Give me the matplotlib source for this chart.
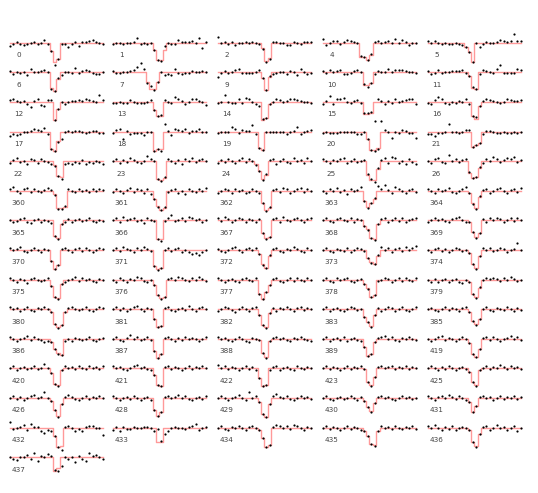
import matplotlib
matplotlib.use('Agg')
import matplotlib.pyplot as plt
import numpy as np

W, H = 538, 493

labels = [0, 1, 2, 4, 5, 6, 7, 9, 10, 11, 12, 13, 14, 15, 16, 17, 18, 19, 20, 21,
          22, 23, 24, 25, 26, 360, 361, 362, 363, 364, 365, 366, 367, 368, 369,
          370, 371, 372, 373, 374, 375, 376, 377, 378, 379, 380, 381, 382, 383, 385,
          386, 387, 388, 389, 419, 420, 421, 422, 423, 425, 426, 428, 429, 430, 431,
          432, 433, 434, 435, 436, 437]

# flux values (pixel-like units, baseline 0), 28 per light curve
flux_r0 = [
    [-3,-1,1,-1,-2,-1,0,1,-1,0,3,-1,-8,-22,-16,-1,-1,-4,-1,1,-3,1,1,2,3,1,0,-1],
    [-1,0,0,-1,0,0,1,5,-1,0,-1,0,-7,-17,-18,-3,0,-1,-1,3,1,1,1,2,0,5,-5,1],
    [6,0,1,-1,1,-2,0,0,1,0,1,0,-1,-6,-19,-16,1,1,0,0,-2,-2,1,0,-1,1,1,1],
    [4,-2,0,2,2,-1,1,3,2,1,0,-13,-14,-17,-11,1,2,0,1,2,0,4,0,3,1,-2,0,0],
    [2,0,2,0,-1,0,-1,-1,0,-1,-2,-4,-9,-19,0,-4,-1,1,0,0,1,3,2,1,2,9,2,2],
]
flux_r1 = [
    [1,-2,0,-1,0,-3,3,0,0,1,2,0,-17,-19,-6,-3,0,0,-1,4,-1,1,2,1,-1,-2,-2,0],
    [1,-1,-1,0,0,1,2,5,9,3,-11,-14,-18,-10,0,-3,-2,-3,3,-1,-2,-1,-1,1,0,0,1,0],
    [-5,-1,1,-1,0,2,3,-1,-1,-1,-1,0,2,-6,-18,-4,-2,-1,0,0,-2,1,0,-3,3,0,-2,-1],
    [1,-1,2,0,1,2,-2,-2,-1,1,2,0,-12,-15,-11,-2,1,0,0,3,0,2,2,2,1,0,0,-1],
    [1,-2,-1,2,-1,0,0,1,1,1,2,-1,-4,-15,-17,-2,2,1,0,-1,3,7,-1,-1,-1,-1,3,2],
]
flux_r2 = [
    [2,3,1,0,1,-2,-5,1,3,-3,-4,2,2,-18,-7,0,-2,0,1,1,2,1,3,2,1,0,7,2],
    [-1,-1,0,-1,-1,2,0,-1,-1,-1,0,2,-8,-14,-13,2,0,-1,5,3,1,-2,0,3,3,1,0,-3],
    [-1,0,7,0,-1,-1,3,-1,4,3,0,-2,-4,-17,-16,-2,0,3,2,0,1,3,3,2,1,0,0,-1],
    [-2,1,6,-2,3,3,4,0,-1,1,2,-1,-11,-11,-10,-19,3,1,-2,1,-1,3,0,1,2,3,3,-2],
    [-1,-2,2,5,3,-1,-2,0,-1,1,0,3,-2,-14,-15,-4,1,3,2,1,0,-1,0,3,2,1,1,2],
]
flux_r3 = [
    [-4,-2,-3,-2,0,0,1,3,2,1,4,-2,-17,-19,-10,-7,0,1,0,1,1,0,-1,0,1,1,-1,-1],
    [-1,2,3,-7,1,-2,-1,-1,-1,-3,0,0,-19,-17,-19,8,1,-3,3,2,1,3,-1,1,1,3,0,0],
    [-1,0,0,0,5,3,-1,2,1,1,7,-2,-16,-18,0,0,0,0,0,0,-2,0,1,5,-2,0,1,2],
    [-1,0,-1,-1,-1,0,0,0,0,0,-2,-2,0,-7,-18,-19,-17,11,2,0,-6,0,-1,2,1,-1,-1,-6],
    [-2,-2,-4,-1,-1,0,8,0,0,-1,0,2,2,-15,-13,-11,-2,1,1,0,-1,-1,0,-1,-1,0,-1,0],
]
flux_r4 = [
    [-2,1,3,-1,0,-3,2,1,-2,2,0,-1,-3,-5,-15,-18,-3,-2,-3,-1,-2,1,-3,-1,-2,0,-1,-3],
    [0,2,-2,1,-1,3,1,-1,-2,0,5,2,0,-18,-20,-16,2,0,-2,1,-3,2,0,3,-1,1,2,0],
    [-2,1,-1,2,0,-2,1,3,-1,2,0,-4,-10,-19,-13,1,2,-3,0,2,-1,-2,3,0,1,-2,3,0],
    [2,0,-2,1,0,2,3,-2,0,2,-1,0,1,-13,-18,-21,-7,1,3,-2,4,3,-2,0,-3,2,-1,-3],
    [0,-2,2,3,-1,-2,6,0,2,-1,1,2,-11,-17,-16,-6,-2,2,0,4,2,-1,1,3,2,4,-1,1],
]
flux_r5 = [
    [2,4,0,-2,2,3,-1,2,0,-1,1,3,1,-4,-18,-18,-15,2,0,-1,2,0,1,-1,2,0,2,1],
    [-1,2,0,-2,1,3,-1,2,1,-2,2,-3,-8,-16,-19,-16,-1,1,2,-2,0,-3,2,0,-1,2,0,3],
    [-2,0,2,1,-2,2,0,1,-2,-1,2,0,-2,-12,-20,-16,1,2,-1,3,2,-2,0,2,3,-1,2,0],
    [0,-2,2,0,3,-1,1,-3,2,0,1,4,-10,-17,-12,-7,5,2,6,1,-2,4,2,0,-2,1,2,-1],
    [2,0,-2,2,0,1,3,-1,-2,0,2,4,-2,-13,-18,-5,1,2,-2,0,2,3,0,-2,1,2,-1,3],
]
flux_r6 = [
    [0,-2,-1,1,2,-2,-3,0,1,-2,0,-1,-3,-16,-19,-4,-2,1,-2,0,1,-1,0,2,-1,-2,0,-1],
    [0,2,-2,3,0,1,2,-1,0,-3,2,0,-1,-19,-21,-1,2,5,-1,0,2,-1,3,2,0,1,-2,0],
    [2,-1,3,1,-2,0,2,1,-2,1,0,-2,1,-13,-19,-17,1,2,-2,3,0,-1,1,2,0,-2,1,2],
    [0,2,-1,-2,1,2,0,-1,2,-2,1,0,-6,-10,-18,-20,-4,1,2,-2,0,2,-1,2,-2,0,1,2],
    [-2,0,2,0,1,-1,-2,1,2,3,0,-2,-2,-12,-18,-13,1,-2,2,0,2,1,-2,0,2,-1,2,0],
]
flux_r7 = [
    [2,0,1,3,-1,-2,0,2,0,-2,1,0,-11,-19,-15,1,2,0,-2,1,2,-1,2,0,-2,0,2,1],
    [0,2,-1,3,1,0,-2,2,0,3,1,-1,-16,-20,-18,0,2,-1,1,2,-2,0,-2,-4,-3,-5,-2,0],
    [1,-1,-2,0,2,3,0,-2,1,2,0,2,-4,-15,-18,-5,1,2,-1,-2,1,0,3,1,-1,-2,2,0],
    [0,2,-1,-2,1,0,-1,2,-2,0,2,1,-1,-8,-13,-14,-5,3,0,2,-2,1,2,-1,3,0,2,4],
    [0,-2,1,2,-1,1,-2,0,2,1,-1,0,-3,-14,-19,-6,2,0,2,-1,0,2,1,-2,0,1,7,0],
]
flux_r8 = [
    [2,0,-2,1,0,-3,1,2,0,-1,0,2,-6,-17,-19,-4,-2,0,1,3,-1,2,0,1,-1,-2,1,0],
    [0,-2,2,0,-2,1,0,3,2,-1,-2,0,-5,-15,-19,-17,1,2,0,3,2,0,-1,2,0,3,1,-1],
    [2,0,-2,0,1,-1,-2,1,2,0,-1,2,-14,-19,-12,-5,1,2,-1,-2,0,2,-1,2,0,-1,2,0],
    [0,2,-1,-2,2,0,1,2,-1,-2,0,1,-4,-9,-17,-15,-1,0,2,1,-2,0,2,-1,2,0,-1,2],
    [0,-2,1,-2,0,1,-2,0,1,-2,-3,0,-2,-14,-18,-7,0,2,1,2,1,-1,2,0,3,1,-1,0],
]
flux_r9 = [
    [2,0,1,-2,0,2,-1,-2,1,0,2,0,-3,-15,-19,-16,-3,1,2,0,-1,0,2,-1,-2,0,2,1],
    [0,2,-1,1,-2,0,2,3,0,-2,1,0,-10,-18,-17,1,2,-1,-2,0,1,-1,3,0,-2,1,2,0],
    [-2,0,2,1,-1,-3,0,2,0,-2,1,2,-6,-16,-19,-4,1,-2,1,0,2,0,-2,1,2,-1,1,0],
    [0,2,-2,0,1,-1,-2,0,2,1,-1,0,-8,-13,-18,-6,1,-2,0,2,1,-2,0,2,-1,-2,0,2],
    [0,1,-1,-2,0,2,-1,1,0,-2,1,2,-3,-12,-16,-10,0,2,-1,-2,1,0,-1,2,0,-2,1,-1],
]
flux_r10 = [
    [2,0,-2,0,1,3,-1,2,0,-1,-3,-2,-3,-10,-15,-16,-2,0,-2,1,0,-1,0,2,-1,-2,0,1],
    [0,2,-1,-2,1,4,0,2,-1,0,2,-1,-12,-19,-15,1,2,0,-2,1,-1,2,0,1,0,-2,0,2],
    [2,0,1,-1,-2,0,2,0,-2,-3,1,0,-1,-14,-19,-2,1,2,0,1,-1,-2,1,0,2,0,-1,-2],
    [0,2,-2,0,1,-1,2,-2,0,1,-1,-2,-8,-17,-15,-3,1,2,3,0,2,-1,-2,1,0,2,0,-1],
    [0,-2,0,2,3,-1,1,0,-2,0,2,0,-4,-15,-18,-10,1,2,-1,2,0,-2,0,1,3,0,2,-1],
]
flux_r11 = [
    [0,2,-2,0,1,-1,0,2,-1,0,4,0,-5,-16,-18,-2,2,0,1,-1,2,0,-1,2,0,1,-1,2],
    [2,0,1,-1,-2,0,2,3,0,1,-1,-2,-7,-17,-18,1,2,-1,1,0,-2,0,2,-1,1,0,2,0],
    [3,0,2,-1,1,0,-2,0,2,-1,1,-2,-10,-18,-17,-2,1,2,-2,0,1,-1,-2,2,0,-1,1,0],
    [0,2,-1,1,0,-2,0,2,-1,1,0,2,-1,-14,-18,-9,1,2,0,1,2,-1,1,0,2,-1,1,0],
    [0,2,0,-2,1,-1,2,0,-2,0,1,-1,-4,-14,-18,-2,0,2,-1,1,0,3,1,-1,2,0,1,-1],
]
flux_r12 = [
    [0,2,-1,1,-2,0,2,3,0,1,6,0,-3,-12,-19,-6,1,3,1,-1,-2,0,2,-1,1,0,2,0],
    [2,0,-2,0,1,-1,2,0,-2,0,1,-2,-12,-18,-14,1,2,0,1,3,0,2,-1,-2,0,1,-1,2],
    [0,2,0,-2,0,1,3,0,-2,6,0,2,-4,-16,-19,-6,2,4,1,0,2,-1,-2,0,2,0,1,-1],
    [0,2,-1,-2,0,1,-1,0,2,0,-2,1,-3,-9,-14,-5,1,2,0,1,-1,-2,0,2,0,1,-1,0],
    [2,0,-2,1,2,0,3,1,-1,2,0,-2,-4,-14,-8,1,2,0,1,-2,0,2,-1,1,0,2,-1,1],
]
flux_r13 = [
    [6,-1,0,1,3,-2,4,1,1,-3,-5,-2,-3,-8,-19,-22,1,2,0,-3,-1,-3,1,2,2,0,0,-7],
    [-2,1,-3,1,-1,-1,1,0,0,1,1,0,-3,-1,-13,-6,-3,0,1,0,0,-1,1,2,4,-2,0,1],
    [0,2,-1,-2,1,0,2,0,-2,1,2,0,-2,-10,-19,-17,1,3,2,0,2,-1,3,2,0,-2,1,0],
    [0,2,-1,1,0,-2,0,2,-1,1,0,-2,-3,-8,-16,-18,-3,2,0,1,-1,2,0,-1,1,0,2,-1],
    [2,0,3,0,-2,1,-1,2,-2,0,1,0,-2,-14,-19,-6,1,2,-2,0,3,0,1,-2,0,2,-3,0],
]
flux_r14 = [
    [0,-2,-3,0,0,2,-2,4,-4,1,0,3,1,-13,-14,-9,0,-2,0,-5,1,-2,-4,4,1,2,0,-2],
]

dip_start_r0 = [12, 12, 13, 11, 11]
dip_model_r0 = [[-8,-19,-16], [-7,-17,-17,-7], [-5,-18,-15], [-14,-14,-17,-12], [-4,-9,-19]]
dip_start_r1 = [12, 10, 13, 12, 12]
dip_model_r1 = [[-16,-19,-7], [-10,-17,-17,-10], [-6,-18,-5], [-13,-13,-11], [-4,-16,-17]]
dip_start_r2 = [13, 12, 13, 12, 13]
dip_model_r2 = [[-18,-7], [-8,-14,-14], [-18,-16,-2], [-12,-12,-11], [-14,-17,-4]]
dip_start_r3 = [12, 12, 12, 13, 13]
dip_model_r3 = [[-17,-19,-9], [-19,-17,-17], [-16,-18], [-7,-18,-18,-16], [-15,-13,-11]]
dip_start_r4 = [13, 13, 11, 13, 12]
dip_model_r4 = [[-4,-15,-16], [-18,-19,-17], [-3,-10,-18,-14], [-14,-19,-19,-8], [-12,-17,-16,-7]]
dip_start_r5 = [13, 12, 13, 12, 12]
dip_model_r5 = [[-3,-17,-17,-16], [-8,-15,-19,-17], [-12,-19,-17], [-10,-16,-12,-8], [-2,-12,-17,-6]]
dip_start_r6 = [13, 13, 13, 12, 12]
dip_model_r6 = [[-16,-18,-4], [-19,-19], [-13,-18,-17], [-6,-9,-18,-19,-4], [-2,-12,-17,-13]]
dip_start_r7 = [12, 12, 12, 13, 12]
dip_model_r7 = [[-11,-19,-15], [-16,-19,-18], [-4,-14,-18,-6], [-8,-12,-14,-6], [-3,-14,-18,-6]]
dip_start_r8 = [12, 12, 12, 12, 12]
dip_model_r8 = [[-6,-17,-18,-4], [-5,-15,-18,-17], [-14,-19,-12,-5], [-4,-8,-17,-15], [-2,-14,-17,-8]]
dip_start_r9 = [12, 12, 12, 12, 12]
dip_model_r9 = [[-3,-15,-18,-16,-3], [-10,-18,-17], [-6,-16,-18,-4], [-8,-13,-17,-6], [-3,-12,-15,-10]]
dip_start_r10 = [12, 12, 12, 12, 12]
dip_model_r10 = [[-3,-10,-14,-16], [-12,-19,-15], [-1,-14,-18,-2], [-8,-17,-15,-3], [-4,-15,-18,-10]]
dip_start_r11 = [12, 12, 12, 12, 12]
dip_model_r11 = [[-5,-16,-17,-2], [-7,-17,-18], [-10,-18,-17], [-1,-14,-17,-9], [-4,-14,-17,-2]]
dip_start_r12 = [12, 12, 12, 12, 12]
dip_model_r12 = [[-3,-12,-18,-6], [-12,-18,-14], [-4,-16,-19,-6], [-3,-9,-13,-5], [-4,-14,-8]]
dip_start_r13 = [13, 13, 12, 12, 12]
dip_model_r13 = [[-8,-19,-18], [-14,-14], [-2,-10,-19,-17], [-3,-8,-16,-17,-3], [-2,-14,-18,-6]]
dip_start_r14 = [13]
dip_model_r14 = [[-14,-11]]

flux_rows = [flux_r0, flux_r1, flux_r2, flux_r3, flux_r4, flux_r5, flux_r6, flux_r7,
             flux_r8, flux_r9, flux_r10, flux_r11, flux_r12, flux_r13, flux_r14]
start_rows = [dip_start_r0, dip_start_r1, dip_start_r2, dip_start_r3, dip_start_r4,
              dip_start_r5, dip_start_r6, dip_start_r7, dip_start_r8, dip_start_r9,
              dip_start_r10, dip_start_r11, dip_start_r12, dip_start_r13, dip_start_r14]
model_rows = [dip_model_r0, dip_model_r1, dip_model_r2, dip_model_r3, dip_model_r4,
              dip_model_r5, dip_model_r6, dip_model_r7, dip_model_r8, dip_model_r9,
              dip_model_r10, dip_model_r11, dip_model_r12, dip_model_r13, dip_model_r14]

col_left = [10, 113, 218, 323, 428]
sp = 3.44
n = 28

fig = plt.figure(figsize=(W/100, H/100), dpi=100)
idx = 0
for r in range(15):
    base = 42.7 + 29.6 * r
    for c in range(len(flux_rows[r])):
        f = flux_rows[r][c]
        s0 = start_rows[r][c]
        dm = model_rows[r][c]
        model = [0.0] * n
        for j, v in enumerate(dm):
            model[s0 + j] = v
        left = col_left[c] - 0.5 * sp
        ax = fig.add_axes([left / W, 1 - (base + 24) / H, n * sp / W, 34 / H])
        x = np.arange(n)
        ax.step(x, model, where='mid', color='red', alpha=0.4, lw=1.0)
        ax.scatter(x, f, s=2.5, c='black', linewidths=0, zorder=3, clip_on=False)
        ax.text(2.5, -12.5, str(labels[idx]), fontsize=5.2, color='#444444',
                ha='center', va='center')
        ax.set_xlim(-0.5, n - 0.5)
        ax.set_ylim(-24, 10)
        ax.axis('off')
        idx += 1

fig.savefig('out.png', dpi=100)
